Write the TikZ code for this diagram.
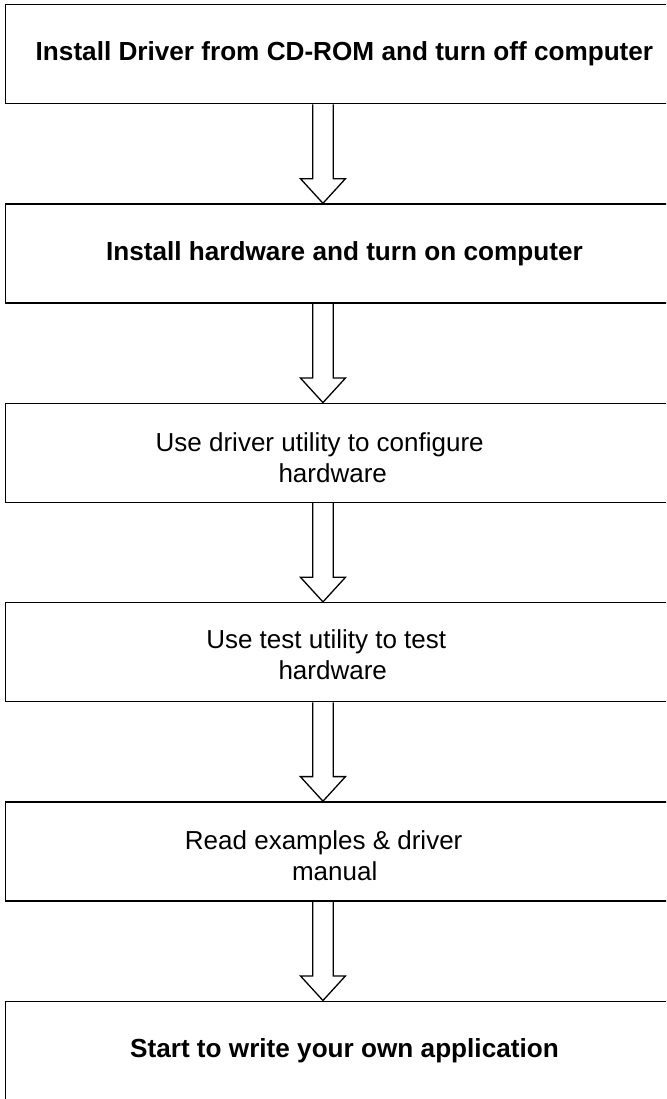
\documentclass[tikz,border=0pt]{standalone}
\usepackage{fontspec}
\setmainfont{Liberation Sans}
\usetikzlibrary{calc}

\tikzset{
  stepbox/.style={draw, line width=1.4pt, anchor=north west, minimum width=678.5pt, minimum height=99pt, inner sep=0pt},
  boldtext/.style={font=\fontsize{26.15}{31}\selectfont\bfseries},
  plaintext/.style={font=\fontsize{26}{31}\selectfont, align=center, inner sep=0pt},
  hollow/.style={draw, line width=1.3pt, line join=miter},
}

\begin{document}
\begin{tikzpicture}[x=1pt, y=1pt]
  \path[use as bounding box, clip] (0, 0) rectangle (666, -1099);
  % the six steps
  \node[stepbox, boldtext] (drv) at (4.5, -4) {Install Driver from CD-ROM and turn off computer};
  \node[stepbox, boldtext] (hw) at (4.5, -203.3) {Install hardware and turn on computer};
  \node[stepbox] (cfg) at (4.5, -402.6) {};
  \node[stepbox] (tst) at (4.5, -601.9) {};
  \node[stepbox] (doc) at (4.5, -801.2) {};
  \node[stepbox, boldtext] (app) at (4.5, -1000.5) {Start to write your own application};
  \node[plaintext] (cfgtxt) at ([xshift=-11.75pt, yshift=-5pt]cfg.center) {Use driver utility to configure\hspace*{26pt}\\hardware};
  \node[plaintext] (tsttxt) at ([xshift=-11.75pt, yshift=-3pt]tst.center) {Use test utility to test\hspace*{13pt}\\hardware};
  \node[plaintext] (doctxt) at ([xshift=-9.75pt, yshift=-4.5pt]doc.center) {Read examples \& driver\hspace*{22pt}\\manual};
  % hollow arrows between steps
  \foreach \a/\b in {drv/hw, hw/cfg, cfg/tst, tst/doc, doc/app}
    \draw[hollow] let \p1 = ([xshift=-21.5pt]\a.south), \p2 = ([xshift=-21.5pt]\b.north) in
      ({\x1-10.3pt}, \y1) -- ({\x1-10.3pt}, {\y2+24.6pt}) -- ({\x1-22.5pt}, {\y2+24.6pt}) -- (\x2, \y2)
      -- ({\x1+22.5pt}, {\y2+24.6pt}) -- ({\x1+10.3pt}, {\y2+24.6pt}) -- ({\x1+10.3pt}, \y1);
\end{tikzpicture}
\end{document}
